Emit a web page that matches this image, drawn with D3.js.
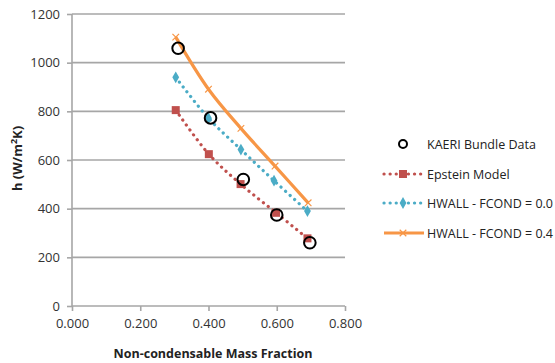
<!DOCTYPE html>
<html><head><meta charset="utf-8">
<script src="https://cdn.jsdelivr.net/npm/d3@7"></script>
<style>body{margin:0;background:#fff;} text{font-family:"Open Sans",sans-serif;}</style>
</head><body><svg id="c" width="555" height="363"></svg>
<script>
const xTicks = [0, 0.2, 0.4, 0.6, 0.8];
const yTicks = [0, 200, 400, 600, 800, 1000, 1200];
const kaeriX = [0.311, 0.406, 0.502, 0.600, 0.697];
const kaeriY = [1059, 773, 520, 374, 260];
const epsteinX = [0.304, 0.401, 0.494, 0.598, 0.690];
const epsteinY = [805, 624, 501, 383, 278];
const hw0X = [0.304, 0.400, 0.495, 0.592, 0.690];
const hw0Y = [940, 772, 643, 515, 390];
const hw4X = [0.304, 0.400, 0.495, 0.595, 0.692];
const hw4Y = [1105, 891, 730, 575, 424];
const legendLabels = ["KAERI Bundle Data", "Epstein Model", "HWALL - FCOND = 0.0", "HWALL - FCOND = 0.4"];

const svg = d3.select("#c");
const x = d3.scaleLinear().domain([0, 0.8]).range([72, 345]);
const y = d3.scaleLinear().domain([0, 1200]).range([306, 14]);
const grid = "#a6a6a6";

// gridlines
svg.append("g").selectAll("line").data(yTicks.filter(d => d > 0)).join("line")
  .attr("x1", x(0)).attr("x2", x(0.8)).attr("y1", d => y(d)).attr("y2", d => y(d))
  .attr("stroke", grid).attr("stroke-width", 1.6);

// y axis
const ya = svg.append("g").attr("transform", `translate(${x(0)},0)`)
  .call(d3.axisLeft(y).tickValues(yTicks).tickSize(5).tickPadding(7).tickFormat(d3.format("d")));
ya.select(".domain").attr("stroke", grid).attr("stroke-width", 1.6).attr("d", `M0,${y(0)}V${y(1200)}`);
ya.selectAll(".tick line").attr("stroke", grid).attr("stroke-width", 1.6);
ya.selectAll("text").attr("font-size", 13).attr("fill", "#333").style("font-family", "Open Sans");

// x axis
const xa = svg.append("g").attr("transform", `translate(0,${y(0)})`)
  .call(d3.axisBottom(x).tickValues(xTicks).tickSize(5).tickPadding(8).tickFormat(d3.format(".3f")));
xa.select(".domain").attr("stroke", grid).attr("stroke-width", 1.6).attr("d", `M${x(0)},0H${x(0.8)}`);
xa.selectAll(".tick line").attr("stroke", grid).attr("stroke-width", 1.6);
xa.selectAll("text").attr("font-size", 13).attr("fill", "#333").style("font-family", "Open Sans");

// titles
svg.append("text").attr("transform", `translate(22,158.5) rotate(-90)`).attr("text-anchor", "middle")
  .attr("font-size", 13).attr("font-weight", "bold").attr("fill", "#222")
  .html('h (W/m<tspan dy="-5" font-size="9">2</tspan><tspan dy="5">K)</tspan>');
svg.append("text").attr("x", 213).attr("y", 358).attr("text-anchor", "middle")
  .attr("font-size", 12.5).attr("font-weight", "bold").attr("fill", "#222")
  .text("Non-condensable Mass Fraction");

const line = d3.line().x(d => x(d[0])).y(d => y(d[1])).curve(d3.curveCatmullRom);
const zip = (a, b) => a.map((v, i) => [v, b[i]]);
const cRed = "#c0504d", cBlue = "#4bacc6", cOr = "#f79646";

const ep = zip(epsteinX, epsteinY), h0 = zip(hw0X, hw0Y), h4 = zip(hw4X, hw4Y), ka = zip(kaeriX, kaeriY);

function dotted(g, pts, col) {
  g.append("path").attr("d", line(pts)).attr("fill", "none").attr("stroke", col)
    .attr("stroke-width", 3.2).attr("stroke-dasharray", "0.1 6").attr("stroke-linecap", "round");
}
const plot = svg.append("g");
dotted(plot, ep, cRed);
plot.selectAll(".sq").data(ep).join("rect").attr("x", d => x(d[0]) - 4).attr("y", d => y(d[1]) - 4)
  .attr("width", 8).attr("height", 8).attr("fill", cRed);
dotted(plot, h0, cBlue);
plot.selectAll(".dm").data(h0).join("path").attr("d", d3.symbol(d3.symbolDiamond, 40))
  .attr("transform", d => `translate(${x(d[0])},${y(d[1])})`).attr("fill", cBlue);
plot.append("path").attr("d", line(h4)).attr("fill", "none").attr("stroke", cOr).attr("stroke-width", 3.2);
plot.selectAll(".xm").data(h4).join("path").attr("d", d3.symbol(d3.symbolX, 30))
  .attr("transform", d => `translate(${x(d[0])},${y(d[1])})`).attr("fill", "none").attr("stroke", cOr).attr("stroke-width", 1.2);
plot.selectAll(".ci").data(ka).join("circle").attr("cx", d => x(d[0])).attr("cy", d => y(d[1])).attr("r", 5.8)
  .attr("fill", "none").attr("stroke", "#000").attr("stroke-width", 2);

// legend
const lg = svg.append("g");
const ly = [144, 174, 203, 233];
lg.selectAll("text").data(legendLabels).join("text").attr("x", 427).attr("y", (d, i) => ly[i] + 4.5)
  .attr("font-size", 12.5).attr("fill", "#222").text(d => d);
lg.append("circle").attr("cx", 403).attr("cy", ly[0]).attr("r", 4).attr("fill", "none").attr("stroke", "#000").attr("stroke-width", 2);
lg.append("line").attr("x1", 384).attr("x2", 424).attr("y1", ly[1]).attr("y2", ly[1]).attr("stroke", cRed)
  .attr("stroke-width", 3.2).attr("stroke-dasharray", "0.1 6").attr("stroke-linecap", "round");
lg.append("rect").attr("x", 399).attr("y", ly[1] - 4).attr("width", 8).attr("height", 8).attr("fill", cRed);
lg.append("line").attr("x1", 384).attr("x2", 424).attr("y1", ly[2]).attr("y2", ly[2]).attr("stroke", cBlue)
  .attr("stroke-width", 3.2).attr("stroke-dasharray", "0.1 6").attr("stroke-linecap", "round");
lg.append("path").attr("d", d3.symbol(d3.symbolDiamond, 40)).attr("transform", `translate(403,${ly[2]})`).attr("fill", cBlue);
lg.append("line").attr("x1", 384).attr("x2", 424).attr("y1", ly[3]).attr("y2", ly[3]).attr("stroke", cOr).attr("stroke-width", 3.2);
lg.append("path").attr("d", d3.symbol(d3.symbolX, 30)).attr("transform", `translate(403,${ly[3]})`)
  .attr("fill", "none").attr("stroke", cOr).attr("stroke-width", 1.2);
</script></body></html>
